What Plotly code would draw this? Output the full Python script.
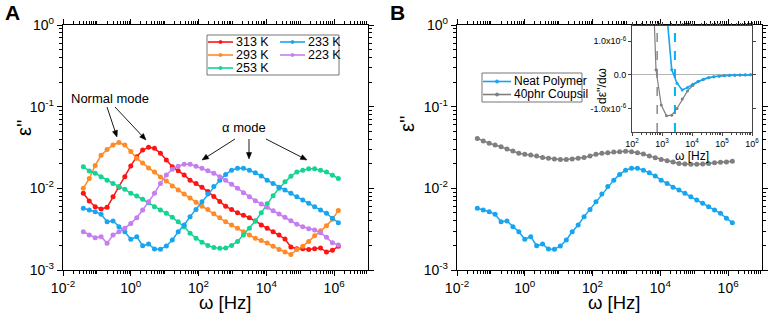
import math
import plotly.graph_objects as go

# ---------------- data ----------------
freq_hz = [0.0398, 0.0596, 0.0891, 0.133, 0.200, 0.299, 0.447, 0.668, 1.00, 1.50,
           2.24, 3.35, 5.01, 7.50, 11.2, 16.8, 25.1, 37.6, 56.2, 84.1,
           126, 188, 282, 422, 631, 944, 1413, 2113, 3162, 4732,
           7079, 10593, 15849, 23714, 35481, 53088, 79433, 118850, 177828, 266073,
           398107, 595662, 891251, 1333521]

eps_313K = [0.00869, 0.00700, 0.00596, 0.00558, 0.00586, 0.00789, 0.0103, 0.0139, 0.0188, 0.0244,
            0.0294, 0.0318, 0.0309, 0.0269, 0.0222, 0.0184, 0.0164, 0.0146, 0.0126, 0.0115,
            0.0103, 0.00912, 0.00794, 0.00692, 0.00603, 0.00550, 0.00501, 0.00468, 0.00437, 0.00398,
            0.00355, 0.00324, 0.00295, 0.00269, 0.00240, 0.00191, 0.00182, 0.00182, 0.00178, 0.00182,
            0.00186, 0.00166, 0.00174, 0.00195]

eps_293K = [0.0100, 0.0132, 0.0191, 0.0254, 0.0299, 0.0339, 0.0363, 0.0339, 0.0282, 0.0234,
            0.0204, 0.0178, 0.0158, 0.0138, 0.0123, 0.0107, 0.00955, 0.00851, 0.00759, 0.00676,
            0.00603, 0.00550, 0.00490, 0.00437, 0.00389, 0.00355, 0.00324, 0.00295, 0.00269, 0.00245,
            0.00229, 0.00214, 0.00195, 0.00178, 0.00166, 0.00155, 0.00178, 0.00195, 0.00224, 0.00263,
            0.00302, 0.00347, 0.00417, 0.00537]

eps_253K = [0.0184, 0.0163, 0.0153, 0.0139, 0.0126, 0.0115, 0.0105, 0.00973, 0.00869, 0.00805,
            0.00733, 0.00667, 0.00596, 0.00542, 0.00494, 0.00442, 0.00390, 0.00339, 0.00282, 0.00245,
            0.00219, 0.00200, 0.00188, 0.00184, 0.00186, 0.00200, 0.00224, 0.00269, 0.00324, 0.00398,
            0.00501, 0.00646, 0.00813, 0.0100, 0.0120, 0.0141, 0.0158, 0.0166, 0.0174, 0.0174,
            0.0166, 0.0158, 0.0145, 0.0132]

eps_233K = [0.00569, 0.00542, 0.00518, 0.00481, 0.00390, 0.00398, 0.00339, 0.00294, 0.00238, 0.00256,
            0.00198, 0.00208, 0.00181, 0.00179, 0.00197, 0.00233, 0.00294, 0.00356, 0.00450, 0.00552,
            0.00685, 0.00851, 0.0105, 0.0126, 0.0148, 0.0167, 0.0176, 0.0176, 0.0167, 0.0155,
            0.0142, 0.0126, 0.0115, 0.0103, 0.00953, 0.00869, 0.00789, 0.00719, 0.00655, 0.00596,
            0.00542, 0.00494, 0.00430, 0.00380]

eps_223K = [0.00294, 0.00268, 0.00248, 0.00256, 0.00212, 0.00268, 0.00294, 0.00324, 0.00372, 0.00437,
            0.00542, 0.00685, 0.00869, 0.0115, 0.0146, 0.0171, 0.0187, 0.0197, 0.0197, 0.0187,
            0.0176, 0.0164, 0.0153, 0.0139, 0.0126, 0.0112, 0.0100, 0.00883, 0.00789, 0.00705,
            0.00643, 0.00585, 0.00532, 0.00484, 0.00442, 0.00402, 0.00363, 0.00339, 0.00321, 0.00309,
            0.00286, 0.00251, 0.00216, 0.00202]

eps_neat = eps_233K
eps_40phr = [0.0409, 0.0379, 0.0356, 0.0339, 0.0323, 0.0303, 0.0286, 0.0268, 0.0261, 0.0256,
             0.0248, 0.0239, 0.0233, 0.0229, 0.0226, 0.0226, 0.0229, 0.0233, 0.0239, 0.0248,
             0.0261, 0.0268, 0.0273, 0.0278, 0.0281, 0.0284, 0.0281, 0.0273, 0.0263, 0.0248,
             0.0237, 0.0226, 0.0218, 0.0210, 0.0202, 0.0198, 0.0197, 0.0197, 0.0198, 0.0202,
             0.0206, 0.0208, 0.0210, 0.0214]

# inset: derivative d eps'' / d omega
inset_freq_40phr = [282, 422, 631, 944, 1413, 2113, 3162, 4732, 7079, 10593, 15849, 23714, 35481,
                    53088, 79433, 118850, 177828, 266073, 398107, 595662, 891251]
deriv_40phr = [8.0e-6, 4.5e-6, 0.15e-6, -0.90e-6, -1.22e-6, -1.20e-6, -1.00e-6, -0.72e-6, -0.48e-6,
               -0.32e-6, -0.21e-6, -0.14e-6, -0.09e-6, -0.06e-6, -0.04e-6, -0.025e-6, -0.015e-6,
               -0.010e-6, -0.006e-6, -0.003e-6, -0.001e-6]
inset_freq_neat = [944, 1413, 2113, 3162, 4732, 7079, 10593, 15849, 23714, 35481, 53088,
                   79433, 118850, 177828, 266073, 398107, 595662, 891251]
deriv_neat = [6.0e-6, 1.9e-6, 0.15e-6, -0.25e-6, -0.45e-6, -0.38e-6, -0.28e-6, -0.20e-6, -0.13e-6,
              -0.085e-6, -0.055e-6, -0.035e-6, -0.020e-6, -0.012e-6, -0.007e-6, -0.004e-6,
              -0.002e-6, -0.001e-6]
peak_freq_40phr = 690
peak_freq_neat = 2700
inset_y_span = [-1.7e-6, 1.45e-6]

series_A = [("313 K", eps_313K), ("293 K", eps_293K), ("253 K", eps_253K),
            ("233 K", eps_233K), ("223 K", eps_223K)]
series_B = [("Neat Polymer", eps_neat), ("40phr Coupsil", eps_40phr)]

main_x_tickvals = [0.01, 1, 100, 1e4, 1e6]
main_x_ticktext = ["10<sup>-2</sup>", "10<sup>0</sup>", "10<sup>2</sup>", "10<sup>4</sup>", "10<sup>6</sup>"]
main_y_tickvals = [0.001, 0.01, 0.1, 1]
main_y_ticktext = ["10<sup>-3</sup>", "10<sup>-2</sup>", "10<sup>-1</sup>", "10<sup>0</sup>"]
inset_x_tickvals = [100, 1e3, 1e4, 1e5, 1e6]
inset_x_ticktext = ["10<sup>2</sup>", "10<sup>3</sup>", "10<sup>4</sup>", "10<sup>5</sup>", "10<sup>6</sup>"]
inset_y_tickvals = [-1e-6, 0, 1e-6]
inset_y_ticktext = ["-1.0x10<sup>-6</sup>", "0.0", "1.0x10<sup>-6</sup>"]

x_title = "ω [Hz]"
y_title = "ε''"
inset_x_title = "ω [Hz]"
inset_y_title = "dε''/dω"

# ---------------- style ----------------
W, H = 768, 317
FONT = "Arial, Liberation Sans, sans-serif"
colors = {"313 K": "#FF1414", "293 K": "#FF8A26", "253 K": "#14D394",
          "233 K": "#17A5F0", "223 K": "#C47EF0",
          "Neat Polymer": "#17A5F0", "40phr Coupsil": "#7F7F7F"}


def px_x(p):
    return p / W


def px_y(p):
    return 1 - p / H


def minor_log(lo, hi, with_decades=False):
    vals = []
    for d in range(lo, hi):
        if with_decades and d % 2 != 0:
            vals.append(10.0 ** d)
        for m in range(2, 10):
            vals.append(m * 10.0 ** d)
    return vals


def label(text, x, y, size, angle=0, xanchor="center", bold=False):
    return dict(text=("<b>%s</b>" % text) if bold else text, x=px_x(x), y=px_y(y),
                xref="paper", yref="paper", xanchor=xanchor, yanchor="middle",
                textangle=angle, showarrow=False, borderpad=0,
                font=dict(family=FONT, size=size, color="black"))


fig = go.Figure()

for name, vals in series_A:
    fig.add_trace(go.Scatter(x=freq_hz, y=vals, mode="lines+markers", name=name,
                             line=dict(color=colors[name], width=1.5),
                             marker=dict(color=colors[name], size=5),
                             xaxis="x", yaxis="y", showlegend=False))

for name, vals in series_B:
    fig.add_trace(go.Scatter(x=freq_hz, y=vals, mode="lines+markers", name=name,
                             line=dict(color=colors[name], width=1.5),
                             marker=dict(color=colors[name], size=5),
                             xaxis="x2", yaxis="y2", showlegend=False))

# inset
fig.add_trace(go.Scatter(x=[peak_freq_40phr, peak_freq_40phr], y=inset_y_span, mode="lines",
                         line=dict(color="#8a8a8a", width=1.5, dash="dash"),
                         xaxis="x3", yaxis="y3", showlegend=False, hoverinfo="skip"))
fig.add_trace(go.Scatter(x=[peak_freq_neat, peak_freq_neat], y=inset_y_span, mode="lines",
                         line=dict(color="#00B4F5", width=2, dash="dash"),
                         xaxis="x3", yaxis="y3", showlegend=False, hoverinfo="skip"))
fig.add_trace(go.Scatter(x=inset_freq_40phr, y=deriv_40phr, mode="lines+markers", name="40phr Coupsil",
                         line=dict(color="#7F7F7F", width=1.2), marker=dict(color="#7F7F7F", size=3),
                         xaxis="x3", yaxis="y3", showlegend=False))
fig.add_trace(go.Scatter(x=inset_freq_neat, y=deriv_neat, mode="lines+markers", name="Neat Polymer",
                         line=dict(color="#17A5F0", width=1.6), marker=dict(color="#17A5F0", size=3),
                         xaxis="x3", yaxis="y3", showlegend=False))

axis_common = dict(showline=True, linecolor="black", linewidth=1.3, mirror="allticks",
                   ticks="outside", ticklen=5, tickwidth=1.2, tickcolor="black",
                   showgrid=False, zeroline=False, automargin=False,
                   tickfont=dict(family=FONT, size=14, color="black"))

xmain = dict(axis_common, type="log", range=[-2, 7], tickmode="array",
             tickvals=main_x_tickvals, ticktext=main_x_ticktext,
             minor=dict(tickmode="array", tickvals=minor_log(-2, 7, True), ticks="outside",
                        ticklen=3, tickwidth=1, tickcolor="black", showgrid=False))
ymain = dict(axis_common, type="log", range=[-3, 0], tickmode="array",
             tickvals=main_y_tickvals, ticktext=main_y_ticktext,
             minor=dict(tickmode="array", tickvals=minor_log(-3, 0), ticks="outside",
                        ticklen=3, tickwidth=1, tickcolor="black", showgrid=False))

ydom = [px_y(270), px_y(25)]
fig.update_layout(
    template="none",
    width=W, height=H, margin=dict(l=0, r=0, t=0, b=0, autoexpand=False),
    paper_bgcolor="white", plot_bgcolor="white",
    font=dict(family=FONT, color="black"),
    showlegend=False,
    xaxis=dict(xmain, domain=[px_x(63), px_x(368)], anchor="y"),
    yaxis=dict(ymain, domain=ydom, anchor="x"),
    xaxis2=dict(xmain, domain=[px_x(457), px_x(762)], anchor="y2"),
    yaxis2=dict(ymain, domain=ydom, anchor="x2"),
    xaxis3=dict(showline=True, linecolor="#444", linewidth=1, mirror="allticks",
                ticks="outside", ticklen=3, tickwidth=1, tickcolor="#444",
                showgrid=False, zeroline=False, type="log", range=[2, 6], automargin=False,
                tickmode="array", tickvals=inset_x_tickvals, ticktext=inset_x_ticktext,
                tickfont=dict(family=FONT, size=9, color="black"),
                minor=dict(tickmode="array", tickvals=minor_log(2, 6), ticks="outside",
                           ticklen=2, tickwidth=0.8, tickcolor="#444", showgrid=False),
                title=dict(text=inset_x_title, font=dict(family=FONT, size=12, color="black"), standoff=0),
                domain=[px_x(632), px_x(752)], anchor="y3"),
    yaxis3=dict(showline=True, linecolor="#444", linewidth=1, mirror="allticks",
                ticks="outside", ticklen=3, tickwidth=1, tickcolor="#444", automargin=False,
                showgrid=False, zeroline=True, zerolinecolor="#b5b5b5", zerolinewidth=1,
                range=inset_y_span, tickmode="array", tickvals=inset_y_tickvals,
                ticktext=inset_y_ticktext,
                tickfont=dict(family=FONT, size=9, color="black"),
                domain=[px_y(132), px_y(26)], anchor="x3"),
)

shapes = []
annotations = []

# axis titles placed where the original puts them
annotations.append(label(x_title, 225, 302, 18.5))
annotations.append(label(x_title, 614, 302, 18.5))
annotations.append(label(y_title, 24, 128, 20, angle=-90))
annotations.append(label(y_title, 407, 124, 20, angle=-90))
annotations.append(label(inset_y_title, 602, 86, 12, angle=-90))

# panel labels
annotations.append(label("A", 4, 13, 21, xanchor="left", bold=True))
annotations.append(label("B", 389, 13, 21, xanchor="left", bold=True))

# manual legend A
shapes.append(dict(type="rect", xref="paper", yref="paper", x0=px_x(207), x1=px_x(339),
                   y0=px_y(75), y1=px_y(35), line=dict(color="#777", width=1), fillcolor="white"))
legend_A_pos = {"313 K": (208, 42), "293 K": (208, 55), "253 K": (208, 68),
                "233 K": (280, 42), "223 K": (280, 55)}
for name, _ in series_A:
    lx, ly = legend_A_pos[name]
    shapes.append(dict(type="line", xref="paper", yref="paper", x0=px_x(lx), x1=px_x(lx + 25),
                       y0=px_y(ly), y1=px_y(ly), line=dict(color=colors[name], width=1.6)))
    shapes.append(dict(type="circle", xref="paper", yref="paper", x0=px_x(lx + 11), x1=px_x(lx + 14),
                       y0=px_y(ly + 1.5), y1=px_y(ly - 1.5), line=dict(color=colors[name], width=1),
                       fillcolor=colors[name]))
    annotations.append(label(name, lx + 27, ly, 12.5, xanchor="left"))

# manual legend B
shapes.append(dict(type="rect", xref="paper", yref="paper", x0=px_x(482), x1=px_x(582),
                   y0=px_y(102), y1=px_y(73), line=dict(color="#777", width=1), fillcolor="white"))
legend_B_pos = {"Neat Polymer": (483, 81.5), "40phr Coupsil": (483, 94.5)}
for name, _ in series_B:
    lx, ly = legend_B_pos[name]
    shapes.append(dict(type="line", xref="paper", yref="paper", x0=px_x(lx), x1=px_x(lx + 28),
                       y0=px_y(ly), y1=px_y(ly), line=dict(color=colors[name], width=1.6)))
    shapes.append(dict(type="circle", xref="paper", yref="paper", x0=px_x(lx + 12.5), x1=px_x(lx + 15.5),
                       y0=px_y(ly + 1.5), y1=px_y(ly - 1.5), line=dict(color=colors[name], width=1),
                       fillcolor=colors[name]))
    annotations.append(label(name, lx + 30, ly, 12, xanchor="left"))

# mode annotations
annotations.append(label("Normal mode", 110, 98, 13))
annotations.append(label("α mode", 244, 128, 13))

# arrows drawn as line + triangular head (pixel geometry -> paper fractions)
arrows = [((117, 137), (107, 107)), ((146, 140), (115, 107)),
          ((202, 160), (235, 139)), ((249, 159), (249, 139)), ((307, 160), (266, 139))]
HEAD_L, HEAD_W = 6.5, 2.6
for (hx, hy), (tx, ty) in arrows:
    dx, dy = hx - tx, hy - ty
    L = math.hypot(dx, dy)
    ux, uy = dx / L, dy / L
    bx, by = hx - ux * HEAD_L, hy - uy * HEAD_L
    nx, ny = -uy, ux
    shapes.append(dict(type="line", xref="paper", yref="paper",
                       x0=px_x(tx), y0=px_y(ty), x1=px_x(bx + ux), y1=px_y(by + uy),
                       line=dict(color="black", width=0.9)))
    p1 = (bx + nx * HEAD_W, by + ny * HEAD_W)
    p2 = (bx - nx * HEAD_W, by - ny * HEAD_W)
    path = "M {:.5f} {:.5f} L {:.5f} {:.5f} L {:.5f} {:.5f} Z".format(
        px_x(hx), px_y(hy), px_x(p1[0]), px_y(p1[1]), px_x(p2[0]), px_y(p2[1]))
    shapes.append(dict(type="path", xref="paper", yref="paper", path=path,
                       fillcolor="black", line=dict(color="black", width=0.5)))

fig.update_layout(shapes=shapes, annotations=annotations)
fig.write_html("out.html", config={"displayModeBar": False},
               post_script="document.body.style.margin='0px';document.body.style.overflow='hidden';")
